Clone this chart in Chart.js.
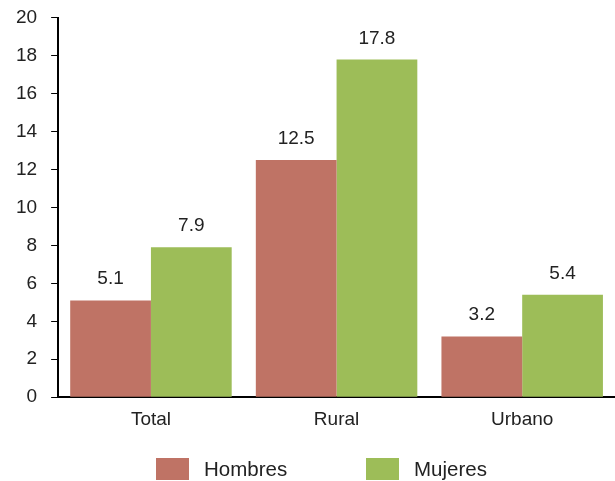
<!DOCTYPE html>
<html>
<head>
<meta charset="utf-8">
<script src="https://cdn.jsdelivr.net/npm/chart.js@4"></script>
<style>
  body { margin: 0; background: #fff; font-family: "Liberation Sans", Arial, sans-serif; }
  #wrap { position: relative; width: 615px; height: 481px; }
  .leg { position: absolute; top: 458px; height: 22px; display: flex; align-items: center; font-size: 20.5px; color: #222; }
  .leg i { display: inline-block; width: 33px; height: 22px; margin-right: 15px; }
</style>
</head>
<body>
<div id="wrap">
  <canvas id="chart" width="615" height="481"></canvas>
  <div class="leg" style="left:156px"><i id="sw0"></i><span id="lb0"></span></div>
  <div class="leg" style="left:366px"><i id="sw1"></i><span id="lb1"></span></div>
</div>
<script>
const categories = ['Total', 'Rural', 'Urbano'];
const hombres = [5.1, 12.5, 3.2];
const mujeres = [7.9, 17.8, 5.4];
const seriesNames = ['Hombres', 'Mujeres'];
const colors = ['#BF7365', '#9DBD58'];
const font = '"Liberation Sans", Arial, sans-serif';

// value labels on top of the bars
const valueLabels = {
  id: 'valueLabels',
  afterDatasetsDraw(chart) {
    const ctx = chart.ctx;
    ctx.save();
    ctx.font = '19px ' + font;
    ctx.fillStyle = '#222';
    ctx.textAlign = 'center';
    ctx.textBaseline = 'alphabetic';
    chart.data.datasets.forEach((ds, i) => {
      chart.getDatasetMeta(i).data.forEach((bar, j) => {
        ctx.fillText(ds.data[j].toFixed(1), bar.x, bar.y - 16);
      });
    });
    ctx.restore();
  }
};

const chart = new Chart(document.getElementById('chart'), {
  type: 'bar',
  data: {
    labels: categories,
    datasets: [
      { label: seriesNames[0], data: hombres, backgroundColor: colors[0] },
      { label: seriesNames[1], data: mujeres, backgroundColor: colors[1] }
    ]
  },
  options: {
    responsive: false,
    animation: false,
    layout: { padding: { left: 2, top: 0, right: 0, bottom: 39 } },
    datasets: { bar: { categoryPercentage: 0.87, barPercentage: 1 } },
    scales: {
      x: {
        grid: { display: false, drawTicks: false },
        border: { color: '#000', width: 2 },
        ticks: { color: '#222', padding: 11, font: { size: 19, family: font } }
      },
      y: {
        min: 0, max: 20,
        grid: { drawOnChartArea: false, tickLength: 7, color: '#000' },
        border: { color: '#000', width: 2 },
        ticks: { stepSize: 2, color: '#222', padding: 14, font: { size: 19, family: font, lineHeight: 0.4 } }
      }
    },
    plugins: {
      legend: { display: false },
      tooltip: { enabled: false }
    }
  },
  plugins: [valueLabels]
});

// legend
seriesNames.forEach((name, i) => {
  document.getElementById('sw' + i).style.background = colors[i];
  document.getElementById('lb' + i).textContent = name;
});
</script>
</body>
</html>
